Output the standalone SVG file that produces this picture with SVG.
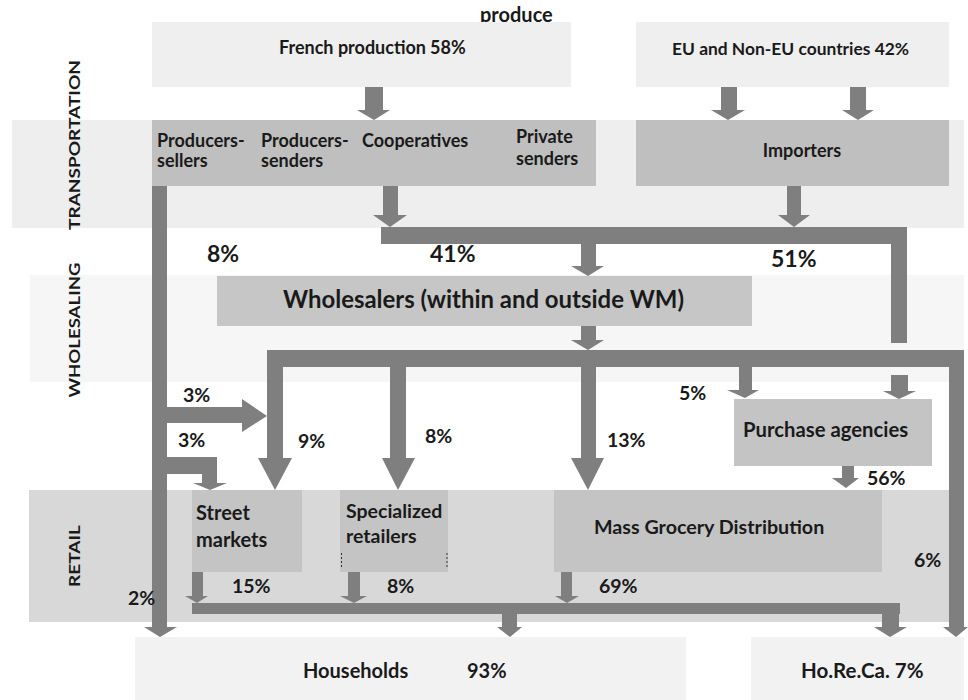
<svg xmlns="http://www.w3.org/2000/svg" width="968" height="700" viewBox="0 0 968 700">
<style>
text{font-family:Lato,"Open Sans","DejaVu Sans",sans-serif;font-weight:bold;fill:#1a1a1a;}
.t16{font-size:16px;}
.t18{font-size:18px;}
.t19{font-size:19.5px;}
.t20{font-size:20px;}
.t23{font-size:23px;}
.c{text-anchor:middle;}
.band1{fill:#eeeeee;}
.band2{fill:#f6f6f6;}
.band3{fill:#d8d8d8;}
.top{fill:#efefef;}
.mid{fill:#bfbfbf;}
.box{fill:#c6c6c6;}
.rbox{fill:#c4c4c4;}
.bot{fill:#f2f2f2;}
.a{fill:#7f7f7f;}
</style>
<rect width="968" height="700" fill="#ffffff"/>

<g id="band-transportation">
<rect class="band1" x="12" y="120" width="952" height="108"/>
<text class="t16" transform="translate(80,145) rotate(-90)" text-anchor="middle" textLength="170" lengthAdjust="spacingAndGlyphs">TRANSPORTATION</text>
</g>
<g id="band-wholesaling">
<rect class="band2" x="30" y="275" width="934" height="107"/>
<text class="t16" transform="translate(80,330) rotate(-90)" text-anchor="middle" textLength="135" lengthAdjust="spacingAndGlyphs">WHOLESALING</text>
</g>
<g id="band-retail">
<rect class="band3" x="29" y="490" width="935" height="132"/>
<text class="t16" transform="translate(80,556) rotate(-90)" text-anchor="middle" textLength="62" lengthAdjust="spacingAndGlyphs">RETAIL</text>
</g>

<g id="title">
<text x="480" y="22" font-size="20">produce</text>
</g>

<g id="french-production">
<rect class="top" x="152" y="22" width="419" height="65"/>
<text class="t18" x="279" y="54">French production</text>
<text class="t18" x="430" y="54">58%</text>
</g>
<g id="eu-countries">
<rect class="top" x="636" y="22" width="313" height="65"/>
<text x="672" y="55" font-size="17.4">EU and Non-EU countries 42%</text>
</g>

<g id="producers">
<rect class="mid" x="152" y="120" width="444" height="66"/>
<text class="t18" x="157" y="147">Producers-</text>
<text class="t18" x="157" y="167">sellers</text>
<text class="t18" x="261" y="147">Producers-</text>
<text class="t18" x="261" y="167">senders</text>
<text class="t18" x="362" y="147">Cooperatives</text>
<text class="t18" x="516" y="143">Private</text>
<text class="t18" x="516" y="165">senders</text>
</g>
<g id="importers">
<rect class="mid" x="636" y="120" width="313" height="66"/>
<text class="t18 c" x="802" y="157">Importers</text>
</g>

<g id="wholesalers">
<rect class="box" x="217" y="276" width="535" height="50"/>
<text x="283" y="308" font-size="24" textLength="401" lengthAdjust="spacingAndGlyphs">Wholesalers (within and outside WM)</text>
</g>

<g id="purchase-agencies">
<rect class="rbox" x="734" y="399" width="198" height="67"/>
<text x="743" y="437" font-size="20.3">Purchase agencies</text>
</g>

<g id="street-markets">
<rect class="rbox" x="192" y="490" width="110" height="82"/>
<text class="t20" x="196" y="520">Street</text>
<text class="t20" x="196" y="547">markets</text>
</g>
<g id="specialized-retailers">
<rect class="rbox" x="340" y="490" width="108" height="82"/>
<line x1="341.5" y1="553" x2="341.5" y2="568" stroke="#333" stroke-width="1" stroke-dasharray="2,2"/>
<line x1="447" y1="553" x2="447" y2="568" stroke="#333" stroke-width="1" stroke-dasharray="2,2"/>
<text class="t19" x="346" y="518">Specialized</text>
<text class="t19" x="346" y="543">retailers</text>
</g>
<g id="mass-grocery">
<rect class="rbox" x="554" y="490" width="328" height="82"/>
<text x="594" y="534" font-size="19.7">Mass Grocery Distribution</text>
</g>

<g id="households">
<rect class="bot" x="135" y="637" width="551" height="63"/>
<text class="t20" x="303" y="678">Households</text>
<text class="t20" x="467" y="678">93%</text>
</g>
<g id="horeca">
<rect class="bot" x="751" y="637" width="213" height="63"/>
<text x="801" y="678" font-size="20.5">Ho.Re.Ca. 7%</text>
</g>

<g id="connectors">
<polygon class="a" points="365,87 383,87 383,110 390,110 374,120 357,110 365,110"/>
<polygon class="a" points="721,87 737,87 737,110 745,110 728,120 711,110 721,110"/>
<polygon class="a" points="850,87 866,87 866,110 874,110 858,120 842,110 850,110"/>
<polygon class="a" points="383,186 398,186 398,215 407,215 390,227 373,215 383,215"/>
<polygon class="a" points="787,186 801,186 801,215 810,215 794,227 778,215 787,215"/>
<rect class="a" x="381" y="227" width="526" height="17"/>
<rect class="a" x="891" y="227" width="16" height="116"/>
<polygon class="a" points="581,244 596,244 596,266 604,266 588,276 571,266 581,266"/>
<polygon class="a" points="581,326 596,326 596,340 604,340 588,350 571,340 581,340"/>
<rect class="a" x="267" y="350" width="697" height="17"/>
<polygon class="a" points="949,350 964,350 964,627 968,627 956,637 943,627 949,627"/>
<polygon class="a" points="267,367 283,367 283,458 292,458 275,490 258,458 267,458"/>
<polygon class="a" points="390,367 406,367 406,458 415,458 398,490 382,458 390,458"/>
<polygon class="a" points="581,367 596,367 596,458 604,458 588,490 571,458 581,458"/>
<polygon class="a" points="739,367 752,367 752,390 759,390 745,398 727,390 739,390"/>
<polygon class="a" points="891,375 908,375 908,391 916,391 899,399 883,391 891,391"/>
<polygon class="a" points="152,186 167,186 167,627 177,627 160,637 144,627 152,627"/>
<polygon class="a" points="167,407 242,407 242,399 267,416 242,432 242,423 167,423"/>
<polygon class="a" points="167,457 217,457 217,483 227,483 210,490 193,483 202,483 202,474 167,474"/>
<polygon class="a" points="842,466 854,466 854,478 859,478 846,488 832,478 842,478"/>
<polygon class="a" points="192,572 203,572 203,596 208,596 197,603 185,596 192,596"/>
<polygon class="a" points="348,572 360,572 360,596 367,596 354,603 340,596 348,596"/>
<polygon class="a" points="561,572 572,572 572,596 579,596 567,603 555,596 561,596"/>
<rect class="a" x="192" y="603" width="708" height="11"/>
<polygon class="a" points="502,614 517,614 517,627 522,627 510,637 497,627 502,627"/>
<polygon class="a" points="882,614 899,614 899,627 907,627 890,637 874,627 882,627"/>
</g>

<g id="labels">
<text class="t23" x="207" y="262">8%</text>
<text class="t23" x="430" y="262">41%</text>
<text class="t23" x="771" y="267">51%</text>
<text class="t19" x="183" y="402">3%</text>
<text class="t19" x="178" y="447">3%</text>
<text class="t19" x="298" y="448">9%</text>
<text class="t19" x="425" y="443">8%</text>
<text class="t19" x="607" y="447">13%</text>
<text class="t19" x="679" y="400">5%</text>
<text class="t19" x="867" y="485">56%</text>
<text class="t19" x="232" y="593">15%</text>
<text class="t19" x="387" y="593">8%</text>
<text class="t19" x="599" y="593">69%</text>
<text class="t19" x="128" y="605">2%</text>
<text class="t19" x="914" y="567">6%</text>
</g>
</svg>
